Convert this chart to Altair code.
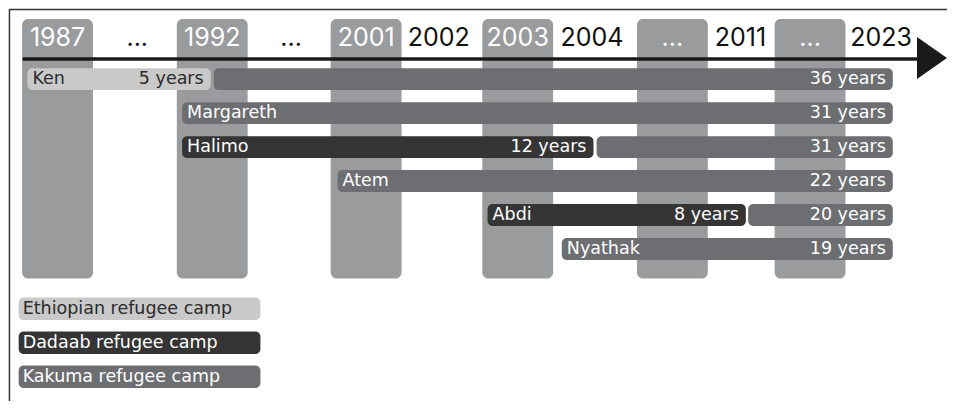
import altair as alt
import pandas as pd

# ---- timeline stops along the top (schematic positions in "stop" units) ----
stop_labels = ["1987", "...", "1992", "...", "2001", "2002", "2003", "2004", "...", "2011", "...", "2023"]
stop_pos = [0.0, 1.03, 2.0, 3.02, 3.99, 4.93, 5.95, 6.91, 7.95, 8.83, 9.73, 10.65]
stop_shaded = [True, False, True, False, True, False, True, False, True, False, True, False]

# ---- people (one row each) ----
names = ["Ken", "Margareth", "Halimo", "Atem", "Abdi", "Nyathak"]

# ---- camp stays (segments) ----
seg_person = ["Ken", "Ken", "Margareth", "Halimo", "Halimo", "Atem", "Abdi", "Abdi", "Nyathak"]
seg_camp = ["Ethiopian", "Kakuma", "Kakuma", "Dadaab", "Kakuma", "Kakuma", "Dadaab", "Kakuma", "Kakuma"]
seg_start = [-0.39, 2.02, 1.61, 1.61, 6.97, 3.62, 5.56, 8.93, 6.52]
seg_end = [1.98, 10.80, 10.80, 6.93, 10.80, 10.80, 8.90, 10.80, 10.80]
seg_label = ["5 years", "36 years", "31 years", "12 years", "31 years", "22 years", "8 years", "20 years", "19 years"]

# ---- camps / legend ----
camp_keys = ["Ethiopian", "Dadaab", "Kakuma"]
camp_names = ["Ethiopian refugee camp", "Dadaab refugee camp", "Kakuma refugee camp"]
camp_colors = ["#c9c9ca", "#353535", "#6d6e71"]
camp_text = ["#2b2b2b", "#ffffff", "#ffffff"]

COL_GRAY = "#9a9b9d"
FONT = "DejaVu Sans"
FS = 17.5
YEAR_FONT = "Inter"

xs = alt.Scale(domain=[-0.628, 11.501], nice=False, zero=False)
ys = alt.Scale(domain=[-2.064, 9.473], nice=False, zero=False, reverse=True)
BAR_H = 0.322
COL_HALF = 0.458

cmap = dict(zip(camp_keys, camp_colors))
tmap = dict(zip(camp_keys, camp_text))
row_of = {n: i for i, n in enumerate(names)}

stops = pd.DataFrame({"label": stop_labels, "pos": stop_pos, "shaded": stop_shaded})
stops["x0"] = stops["pos"] - COL_HALF
stops["x1"] = stops["pos"] + COL_HALF
stops["tcolor"] = ["#ffffff" if s else "#111111" for s in stop_shaded]
stops["top"] = -1.772
stops["bot"] = 5.871
stops["ty"] = -1.215

segs = pd.DataFrame({"person": seg_person, "camp": seg_camp, "start": seg_start,
                     "end": seg_end, "label": seg_label})
segs["row"] = segs["person"].map(row_of)
segs["y0"] = segs["row"] - BAR_H
segs["y1"] = segs["row"] + BAR_H
segs["fill"] = segs["camp"].map(cmap)
segs["tcolor"] = segs["camp"].map(tmap)

first = segs.groupby("person", sort=False).first().reset_index()

leg = pd.DataFrame({"name": camp_names, "fill": camp_colors, "tcolor": camp_text})
leg["row"] = [6.76 + i for i in range(len(camp_names))]
leg["y0"] = leg["row"] - 0.33
leg["y1"] = leg["row"] + 0.33
leg["x0"] = -0.503
leg["x1"] = 2.623

X = lambda f: alt.X(f, type="quantitative", scale=xs, axis=None)
Y = lambda f: alt.Y(f, type="quantitative", scale=ys, axis=None)

# frame (top and left edges)
frame = pd.DataFrame({"x0": [-0.628, -0.622], "x1": [11.501, -0.622],
                      "y0": [-2.05, -2.064], "y1": [-2.05, 9.473]})
frame_layer = alt.Chart(frame).mark_rule(color="#333333", strokeWidth=1.5).encode(
    x=X("x0"), x2="x1", y=Y("y0"), y2="y1")

cols = alt.Chart(stops).transform_filter("datum.shaded").mark_rect(
    color=COL_GRAY, cornerRadius=6).encode(x=X("x0"), x2="x1", y=Y("top"), y2="bot")

years = alt.Chart(stops).mark_text(font=YEAR_FONT, fontSize=25, baseline="middle",
                                   align="center").encode(
    x=X("pos"), y=Y("ty"), text="label:N", color=alt.Color("tcolor:N", scale=None))

tl = pd.DataFrame({"x0": [-0.452], "x1": [11.15], "y": [-0.59]})
line = alt.Chart(tl).mark_rule(color="#1a1a1a", strokeWidth=3.5).encode(
    x=X("x0"), x2="x1", y=Y("y"))

arr = pd.DataFrame({"x": [11.307], "y": [-0.62]})
arrow = alt.Chart(arr).mark_point(shape="M -0.714 -1 L 0.714 0 L -0.714 1 Z", filled=True,
                                  size=1764, color="#1a1a1a", opacity=1, strokeWidth=0).encode(
    x=X("x"), y=Y("y"))

bars = alt.Chart(segs).mark_rect(cornerRadius=5).encode(
    x=X("start"), x2="end", y=Y("y0"), y2="y1", fill=alt.Fill("fill:N", scale=None))

name_txt = alt.Chart(first).mark_text(font=FONT, fontSize=FS, align="left", baseline="middle",
                                      dx=5).encode(
    x=X("start"), y=Y("row"), text="person:N", color=alt.Color("tcolor:N", scale=None))

dur_txt = alt.Chart(segs).mark_text(font=FONT, fontSize=FS, align="right", baseline="middle",
                                    dx=-7).encode(
    x=X("end"), y=Y("row"), text="label:N", color=alt.Color("tcolor:N", scale=None))

leg_box = alt.Chart(leg).mark_rect(cornerRadius=5).encode(
    x=X("x0"), x2="x1", y=Y("y0"), y2="y1", fill=alt.Fill("fill:N", scale=None))
leg_txt = alt.Chart(leg).mark_text(font=FONT, fontSize=FS, align="left", baseline="middle",
                                   dx=4).encode(
    x=X("x0"), y=Y("row"), text="name:N", color=alt.Color("tcolor:N", scale=None))

chart = alt.layer(frame_layer, cols, years, line, arrow, bars, name_txt, dur_txt,
                  leg_box, leg_txt).properties(
    width=940, height=394, padding=0,
    autosize=alt.AutoSizeParams(type="fit", contains="padding"),
    background="white",
).configure_view(stroke=None)

chart.save("out.html", embed_options={"renderer": "svg", "actions": False})
